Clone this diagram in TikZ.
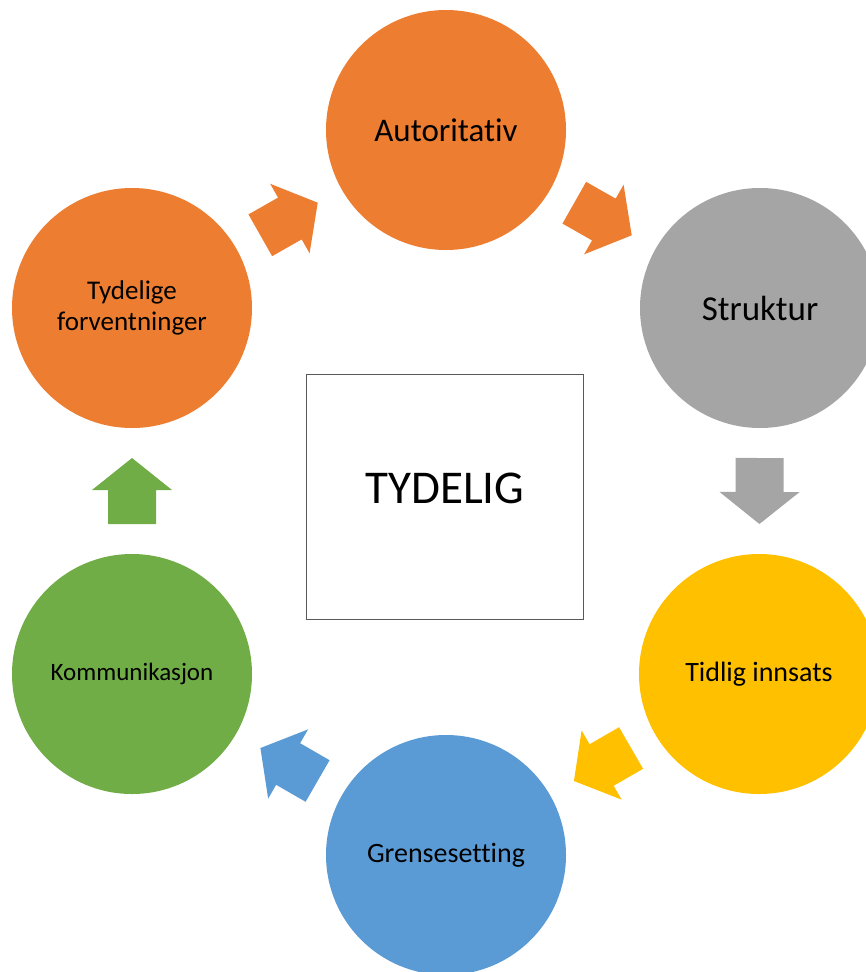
\documentclass[tikz,border=0pt]{standalone}
\usepackage{fontspec}
\setmainfont{Carlito}[Ligatures={NoCommon,NoContextual}]
\usetikzlibrary{calc,positioning}
\definecolor{ringorange}{HTML}{ED7D31}
\definecolor{ringgrey}{HTML}{A5A5A5}
\definecolor{ringyellow}{HTML}{FFC000}
\definecolor{ringblue}{HTML}{5B9BD5}
\definecolor{ringgreen}{HTML}{70AD47}
% block arrow half way between two circles, pointing from #1 to #2
\newcommand{\cyclearrow}[3]{%
  \pgfmathanglebetweenpoints{\pgfpointanchor{#1}{center}}{\pgfpointanchor{#2}{center}}%
  \let\arrowangle\pgfmathresult
  \begin{scope}[shift={($(#1)!0.5!(#2)$)},rotate=\arrowangle,x=1pt,y=1pt]
    \fill[#3] (-33,-24) -- (1,-24) -- (1,-40) -- (33,0) -- (1,40) -- (1,24) -- (-33,24) -- cycle;
  \end{scope}}
\begin{document}
\begin{tikzpicture}[x=1pt,y=-1pt,
    ring/.style={circle,minimum size=240pt,inner sep=0pt,text=black,align=center}]
  \useasboundingbox (0,0) rectangle (866,972);
  \node[ring,fill=ringorange,font=\fontsize{33}{40}\selectfont] (autoritativ) at (446,130) {Autoritativ};
  \node[ring,fill=ringgrey,font=\fontsize{35}{40}\selectfont] (struktur) at (760,308) {Struktur};
  \node[ring,fill=ringyellow,font=\fontsize{28}{34}\selectfont] (innsats) at (759,674) {Tidlig innsats};
  \node[ring,fill=ringblue,font=\fontsize{28}{34}\selectfont] (grense) at (446,855) {Grensesetting};
  \node[ring,fill=ringgreen,font=\fontsize{25}{30}\selectfont] (kommunikasjon) at (132,674) {Kommunikasjon};
  \node[ring,fill=ringorange,font=\fontsize{27}{31}\selectfont] (tydelige) at (132,308) {Tydelige\\forventninger};
  % centre box
  \node[draw=black!65,line width=1.2pt,minimum width=277pt,minimum height=245pt] (box) at (445,497) {};
  \node[font=\fontsize{47}{56}\selectfont] (tydelig) at ($(box.center)+(0,-9)$) {TYDELIG};
  % arrows round the ring
  \cyclearrow{tydelige}{autoritativ}{ringorange}
  \cyclearrow{autoritativ}{struktur}{ringorange}
  \cyclearrow{struktur}{innsats}{ringgrey}
  \cyclearrow{innsats}{grense}{ringyellow}
  \cyclearrow{grense}{kommunikasjon}{ringblue}
  \cyclearrow{kommunikasjon}{tydelige}{ringgreen}
\end{tikzpicture}
\end{document}
